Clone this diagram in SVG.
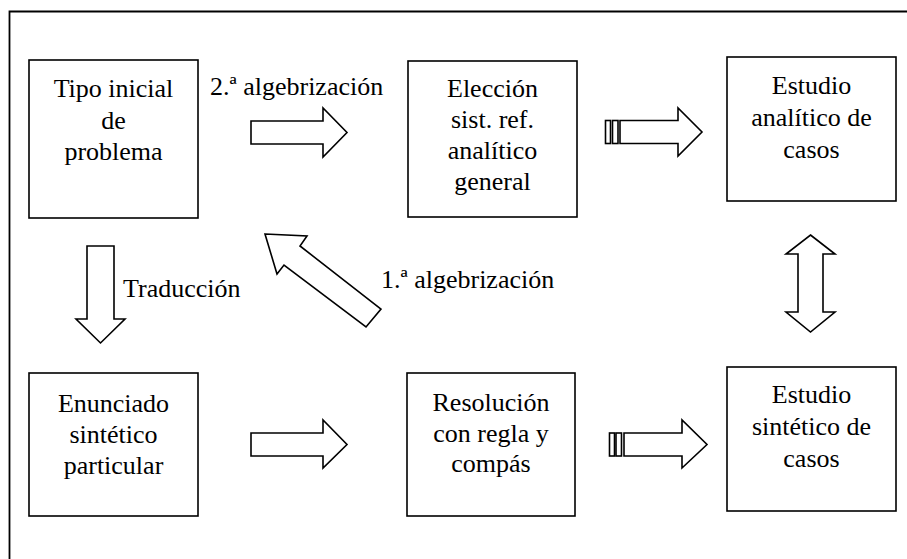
<svg xmlns="http://www.w3.org/2000/svg" width="907" height="559" viewBox="0 0 907 559" font-family="Liberation Serif, DejaVu Serif, serif" font-size="26">
<defs>
<style>
.box{fill:#fff;stroke:#000;stroke-width:1.6}
.arr{fill:#fff;stroke:#000;stroke-width:1.6;stroke-linejoin:miter}
</style>
</defs>
<rect width="907" height="559" fill="#fff"/>
<path d="M9.5,570 V11.5 H920" fill="none" stroke="#000" stroke-width="1.8"/>
<g id="n1" text-anchor="middle"><rect class="box" x="29" y="60" width="169" height="158"/>
<text x="113.5" y="97">Tipo inicial</text><text x="113.5" y="128.5">de</text><text x="113.5" y="160">problema</text></g>
<g id="n2" text-anchor="middle"><rect class="box" x="408" y="61" width="169" height="156"/>
<text x="492.5" y="97">Elección</text><text x="492.5" y="128">sist. ref.</text><text x="492.5" y="159">analítico</text><text x="492.5" y="190">general</text></g>
<g id="n3" text-anchor="middle"><rect class="box" x="727" y="57" width="169" height="144"/>
<text x="811.5" y="94">Estudio</text><text x="811.5" y="126">analítico de</text><text x="811.5" y="158">casos</text></g>
<g id="n4" text-anchor="middle"><rect class="box" x="29" y="373" width="169" height="143"/>
<text x="113.5" y="412">Enunciado</text><text x="113.5" y="443">sintético</text><text x="113.5" y="474">particular</text></g>
<g id="n5" text-anchor="middle"><rect class="box" x="407" y="373" width="168" height="143"/>
<text x="491" y="411">Resolución</text><text x="491" y="442">con regla y</text><text x="491" y="472">compás</text></g>
<g id="n6" text-anchor="middle"><rect class="box" x="727" y="367" width="169" height="144"/>
<text x="811.5" y="403">Estudio</text><text x="811.5" y="435">sintético de</text><text x="811.5" y="467">casos</text></g>
<g id="connectors">
<polygon class="arr" points="251,121 323,121 323,108 347,132.5 323,157 323,144 251,144"/>
<text x="210" y="95">2.ª algebrización</text>
<polygon class="arr" points="251,433 323,433 323,420 347,444.5 323,468 323,456 251,456"/>
<rect class="arr" x="605.5" y="120.5" width="5" height="23"/>
<rect class="arr" x="612.5" y="120.5" width="5.5" height="23"/>
<polygon class="arr" points="620,120.5 678,120.5 678,108 702,132 678,156 678,143.5 620,143.5"/>
<rect class="arr" x="609.5" y="433" width="5" height="23"/>
<rect class="arr" x="616" y="433" width="5.5" height="23"/>
<polygon class="arr" points="624,433 682,433 682,420 707,444.5 682,468 682,456 624,456"/>
<polygon class="arr" points="810.5,235 835,254 823,254 823,312 835,312 810.5,332 786,312 798,312 798,254 786,254"/>
<polygon class="arr" points="87,246 114,246 114,319 125,319 100.5,343 76,319 87,319"/>
<text x="123" y="297">Traducción</text>
<polygon class="arr" points="265,234 307,236 300,246 381,309 366,327 284,265 277,274"/>
<text x="381" y="288">1.ª algebrización</text>
</g>
</svg>
